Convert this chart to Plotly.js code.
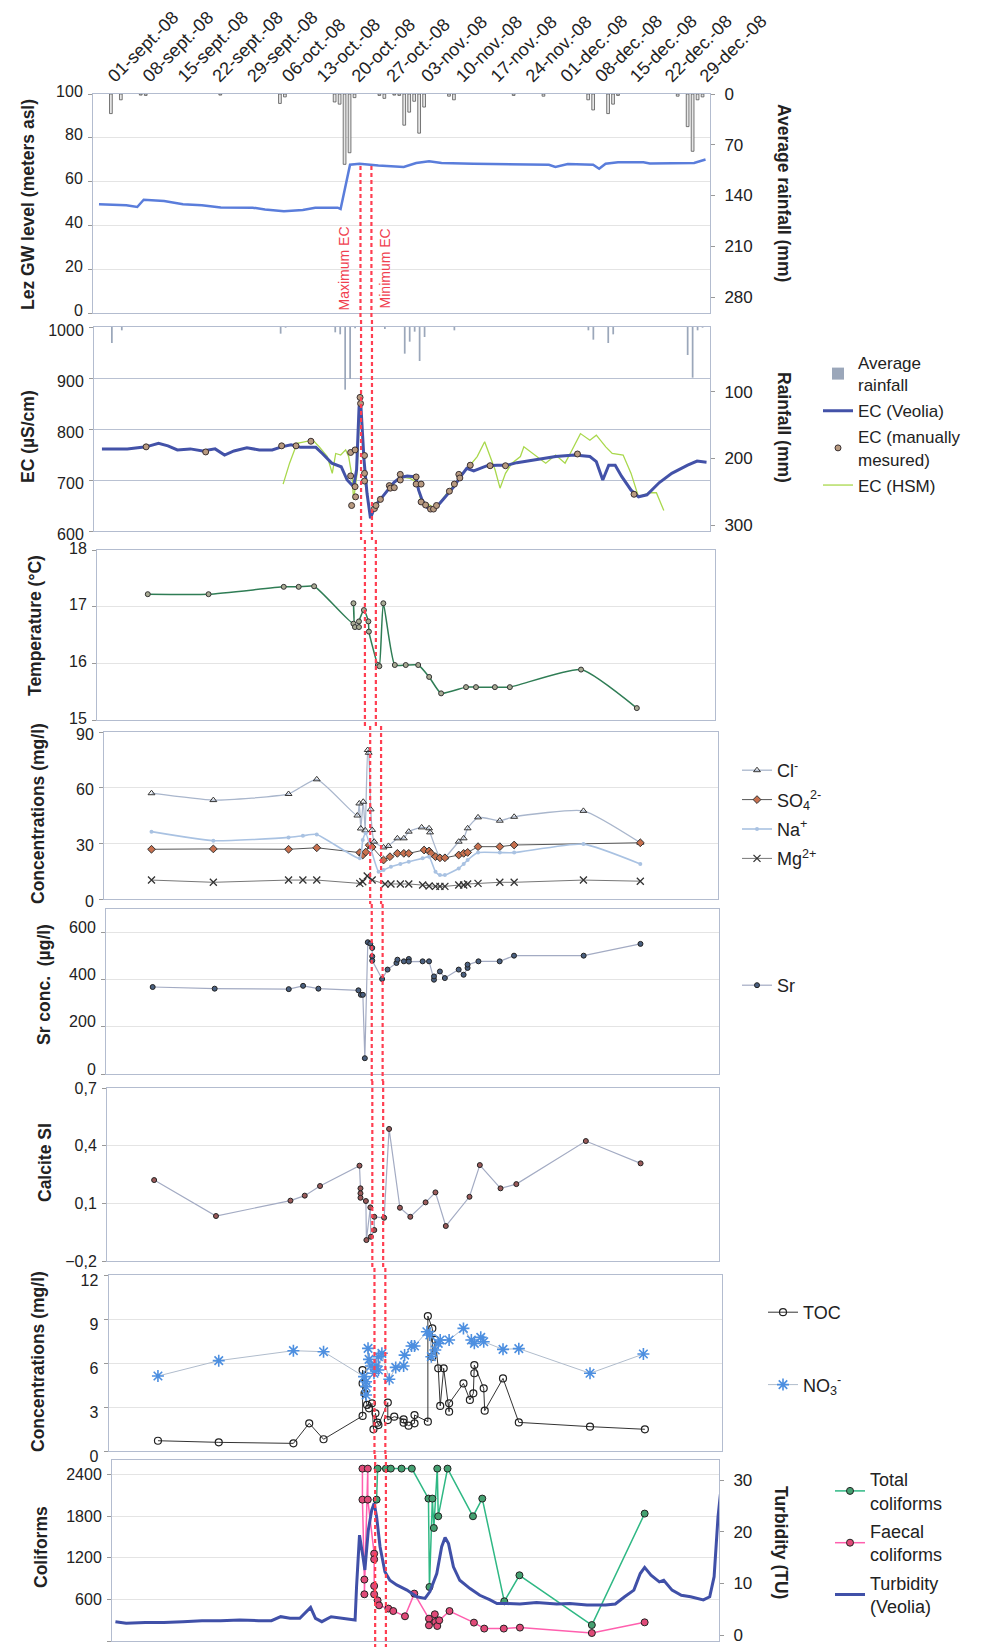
<!DOCTYPE html>
<html><head><meta charset="utf-8">
<script src="https://cdn.plot.ly/plotly-3.0.1.min.js"></script>
<style>html,body{margin:0;padding:0;background:#fff}#chart{width:984px;height:1647px}</style>
</head><body><div id="chart"></div>
<script>
// ---------- DATA (x values are days since 01-sept-2008) ----------
const weekDays = [0,7,14,21,28,35,42,49,56,63,70,77,84,91,98,105,112,119];
const weekLabels = ["01-sept.-08","08-sept.-08","15-sept.-08","22-sept.-08","29-sept.-08","06-oct.-08","13-oct.-08","20-oct.-08","27-oct.-08","03-nov.-08","10-nov.-08","17-nov.-08","24-nov.-08","01-dec.-08","08-dec.-08","15-dec.-08","22-dec.-08","29-dec.-08"];

const rainDay = [1,3,7,8,23,35,36,46,47,48,49,50,55,56,58,59,60,61,62,63,64,69,70,82,88,97,98,101,102,103,115,117,118,119,120];
const rainMm  = [27,8,1.5,2,1.5,13,4,11,14,97,81,5,2,6,1.5,2,43,25,10,54,18,3,8,2,3,8,22,27,14,2,3,45,79,8,4];

const gwDay = [-1.4,4.1,6.3,7.6,11.7,15.5,19.3,23.1,29.5,32.0,35.8,39.6,42.1,46.6,47.2,48.2,49.1,51.0,54.8,59.9,62.4,65.0,67.5,73.9,89.1,90.4,92.9,98.0,99.2,100.5,103.0,108.1,109.4,118.3,120.6];
const gwLevel = [49.7,49.2,48.4,51.7,51.1,49.7,49.2,48.2,48.1,47.3,46.5,47.0,48.1,48.1,47.5,58.5,67.7,68.2,67.4,66.7,68.5,69.3,68.5,68.2,67.7,66.7,68.0,67.7,65.9,68.2,68.8,68.8,68.3,68.5,70.1];

const ecVDay = [-1.0,4.1,7.9,10.4,12.3,14.2,16.8,19.3,21.8,23.7,25.6,28.2,30.7,33.3,35.2,37.1,39.0,42.1,43.4,45.3,47.2,48.4,49.7,50.3,50.8,51.1,51.8,52.4,53.1,54.1,55.1,56.5,57.8,59.1,60.5,62.2,62.8,63.5,64.5,65.5,66.5,68.2,69.9,71.2,72.5,73.9,75.2,76.6,78.6,80.6,82.6,86.5,90.4,94.2,97.3,98.6,99.9,101.1,102.4,103.7,105.6,107.1,108.8,111.3,113.8,117.0,118.9,120.8];
const ecV = [761,761,765,772,767,759,761,757,761,749,757,763,759,759,765,769,764,764,752,733,726,700,687,720,843,857,739,674,625,651,662,680,695,705,708,706,680,661,646,643,648,667,687,706,723,718,723,728,729,729,734,740,746,749,746,736,700,729,729,707,680,667,671,695,713,729,737,735];

const ecMDay = [7.9,19.9,35.2,38.1,41.1,49.1,50.0,49.1,49.3,50.0,50.1,51.0,51.1,51.9,51.9,51.9,53.9,54.2,55.1,56.9,57.1,57.9,59.1,59.1,62.3,62.3,63.3,63.3,64.2,65.2,65.8,66.4,69.0,70.0,70.9,71.1,73.2,77.2,80.3,94.8,106.2];
const ecM = [765,755,767,767,776,754,759,708,650,687,667,862,850,748,713,698,644,650,662,689,684,685,711,700,706,692,692,657,651,643,643,650,678,692,711,704,729,728,728,751,672];

const ecHDay = [35.5,36.8,38.3,39.9,41.5,42.8,44.4,45.4,46.1,47.1,48.1,48.7,49.4,49.7,50.4,51.0,51.4,52.1,53.1,54.1,55.1,57.1,59.1,61.1,62.5,63.2,64.5,66.2,68.5,71.2,72.5,74.6,76.1,77.2,78.2,79.2,80.3,81.6,83.3,84.0,86.5,88.4,90.4,92.3,93.5,95.4,97.3,98.6,100.5,101.8,104.0,105.6,107.1,109.4,110.7,112.2];
const ecH = [692,733,772,775,778,765,746,713,752,749,759,746,706,661,713,850,791,687,635,644,661,687,706,703,695,661,654,644,674,706,720,746,775,746,720,684,713,733,746,765,746,733,749,733,755,791,778,788,765,752,749,713,667,675,675,640];

const tDay = [7.6,19.8,34.9,37.9,41.0,48.9,48.9,49.2,50.0,50.0,51.0,51.9,52.0,53.8,54.1,54.9,57.2,59.4,61.9,64.1,66.5,71.5,73.5,77.3,80.3,94.6,105.8];
const tempC = [17.22,17.22,17.35,17.35,17.36,16.70,17.06,16.64,16.64,16.74,16.94,16.74,16.56,15.97,15.95,17.06,15.97,15.97,15.97,15.76,15.47,15.58,15.58,15.58,15.58,15.89,15.21];

const clDay = [7.0,19.5,34.7,40.4,48.6,49.0,49.3,49.8,50.2,50.7,50.9,51.3,51.6,52.0,53.9,54.9,56.7,58.0,59.0,61.6,63.1,63.3,65.3,66.3,69.1,70.1,70.9,73.0,77.4,80.3,94.3,105.8];
const cl = [57,53.3,56.6,64.5,45,51.5,38,52.4,37,80.3,78.8,48.3,37.2,30.9,27.8,28.6,32.7,32.7,36.3,38.6,38.1,35.9,22.4,22.4,30.9,32.7,38.1,44,42.2,44.3,47.5,30.3];
const so4Day = [7.0,19.5,34.7,40.4,49.1,49.7,50.3,51.0,51.6,53.9,55.2,56.7,58.0,59.0,62.1,63.1,63.5,64.4,65.3,66.3,69.1,70.1,70.9,73.0,77.4,80.3,105.8];
const so4 = [26.8,27,26.8,27.6,25,23.7,25.3,29,28,21,22.8,24.6,24.6,24.6,26.4,25.9,24.6,22.8,22.2,22.2,23.7,24.6,25.1,28.2,28.2,29.1,30.3];
const naDay = [7.0,19.5,34.7,37.6,40.4,49.1,49.7,50.3,52.9,53.9,55.4,57.3,59.0,61.8,63.1,64.4,65.3,66.3,69.1,70.1,70.9,73.0,77.4,80.3,94.3,105.8];
const na = [36.3,31.4,33.2,34.1,34.8,21.9,31.8,35.4,14.7,15.6,17.4,18.9,20.1,21.9,22.8,14.7,12.9,12.9,16.5,18.9,21.0,25,25,25,29.6,18.9];
const mgDay = [7.0,19.5,34.7,37.6,40.4,49.1,49.7,50.6,51.6,54.2,55.4,57.3,59.0,61.8,63.1,64.4,65.3,66.3,69.1,70.1,70.9,73.0,77.4,80.3,94.3,105.8];
const mg = [10.2,9.0,10.2,10.2,10.2,8.4,9.3,12.4,10.2,8.1,8.1,8.1,8.1,7.5,7.0,6.8,6.8,6.8,7.5,7.5,8.1,8.4,9.0,9.0,10.2,9.6];

const srDay = [6.85,19.4,34.4,37.3,40.4,48.5,49.0,49.4,49.8,50.4,50.9,51.3,51.3,51.3,53.3,54.4,56.2,56.4,57.7,58.7,58.7,61.5,62.8,63.8,63.8,65.0,66.0,68.8,69.8,70.6,70.6,72.8,77.1,80.0,94.1,105.6];
const sr = [369,362,360,374,362,355,336,336,67,559,553,535,499,481,403,443,471,485,478,488,477,478,478,400,414,435,407,443,421,450,464,478,478,502,502,552];

const siDay = [6.96,19.5,34.6,37.5,40.6,48.6,48.8,48.8,48.8,49.9,50.0,50.8,50.9,51.6,51.6,53.6,54.6,56.8,58.9,62.0,64.0,66.1,70.9,73.0,77.2,80.4,94.5,105.6];
const calciteSI = [0.221,0.034,0.114,0.140,0.190,0.296,0.178,0.152,0.129,0.112,-0.091,0.079,-0.074,-0.039,0.030,0.025,0.487,0.077,0.030,0.105,0.157,-0.018,0.134,0.299,0.178,0.200,0.424,0.308];

const no3Day = [7.4,19.7,34.8,40.9,49.1,49.5,49.5,49.5,49.9,50.1,50.5,51.1,51.5,52.0,52.0,52.7,54.2,55.5,57.1,57.3,58.7,59.3,61.8,62.4,62.7,63.5,64.1,64.5,66.3,69.2,70.8,71.4,72.7,73.3,77.2,80.4,94.8,105.6];
const no3 = [5.11,6.16,6.84,6.77,5.07,4.72,3.82,4.38,7.0,6.25,5.8,5.3,5.8,6.43,5.52,6.66,4.89,5.7,5.8,6.54,7.16,7.16,8.13,7.91,6.43,6.89,7.34,7.57,7.57,8.36,7.57,7.34,7.75,7.45,6.93,6.98,5.3,6.61];
const tocDay = [7.4,19.7,34.8,38.0,40.9,48.8,48.8,48.8,49.2,49.7,50.1,50.7,51.0,51.4,51.8,52.0,53.9,53.9,55.2,57.1,57.1,58.1,59.3,59.3,62.0,62.0,62.9,62.9,63.5,64.1,64.5,65.2,66.3,66.3,69.2,70.5,71.2,71.4,71.4,73.3,73.5,77.2,80.4,94.8,105.9];
const toc = [0.70,0.59,0.52,1.89,0.80,2.39,5.52,4.61,3.93,3.14,2.91,3.25,1.48,2.57,1.93,1.77,3.30,2.11,2.34,2.16,1.93,1.73,1.89,2.45,2.0,9.2,8.36,6.43,7.57,5.64,3.07,5.64,2.68,3.25,4.61,3.48,3.93,5.30,5.86,4.27,2.75,4.95,1.95,1.66,1.48];

const totDay = [51.5,51.7,53.4,54.4,56.6,58.7,62.1,62.3,62.9,63.2,63.9,64.1,66.0,71.2,73.1,77.6,80.7,95.5,106.3];
const totalColi = [2037,2484,2484,2484,2484,2484,2052,778,2052,1628,2484,1797,2484,1797,2052,572,947,230,1836];
const faeDay = [48.6,48.6,49.0,49.0,49.7,49.7,51.0,51.0,51.0,51.0,51.7,52.0,53.9,54.9,57.3,59.2,62.2,62.2,63.4,63.5,63.9,64.3,66.4,71.4,73.5,77.5,80.8,95.5,106.3];
const faecalColi = [2484,2037,885,673,2484,2037,1259,1177,793,673,586,514,467,432,356,683,322,226,385,274,216,298,432,265,179,179,193,115,269];
const turbDay = [-1.9,0.3,4.2,8.0,11.9,15.8,19.6,23.5,27.4,30.0,31.9,33.8,35.8,38.0,39.0,40.3,42.2,44.7,47.1,47.4,48.0,48.7,49.1,49.8,50.5,51.0,51.5,52.2,53.2,54.2,55.6,57.7,59.7,61.4,62.4,63.8,64.8,65.5,66.2,67.2,68.5,70.6,72.6,74.7,76.1,78.1,80.8,84.2,88.3,91.0,94.5,98.3,100.3,102.2,104.1,105.4,106.3,107.6,109.3,110.2,111.9,113.8,115.7,118.3,119.6,120.5,121.3,121.8];
const turbidity = [2.58,2.26,2.4,2.4,2.58,2.77,2.77,2.9,2.77,2.77,3.55,3.23,3.23,5.36,3.23,2.58,3.55,3.23,2.9,9.35,19.35,15.2,12.6,20.3,24.2,25.5,22.9,17.1,12.25,10.6,9.7,8.7,7.4,7.1,8.4,11.9,17.1,18.9,17.7,13.2,10.6,9.0,7.7,6.8,6.1,6.1,6.0,6.3,6.0,6.1,5.8,5.8,6.0,7.4,8.7,11.9,13.1,11.6,10.3,10.6,8.7,7.7,7.4,6.8,7.4,11.3,22.9,27.4];

const markerDays = [51.2, 53.4];  // Maximum EC / Minimum EC
const markerNames = ["Maximum EC", "Minimum EC"];

// ---------- LAYOUT GEOMETRY ----------
const W = 984, H = 1647;
const px = v => v / W, py = v => 1 - v / H;
const XR = [-2.6, 121.5];
// shift: vertical nudge of tick labels (positive = down) to keep neighbouring panels' labels apart
const panels = [
  {L:93, R:710, T:94, B:313, shift: -3},
  {L:94, R:710, T:327, B:531, shift: 3},
  {L:97, R:715, T:550, B:720, shift: -2},
  {L:104, R:718, T:732, B:899, shift: 2},
  {L:106, R:719, T:909, B:1074, shift: -5},
  {L:107, R:719, T:1088, B:1261, shift: 0},
  {L:108.5, R:722, T:1275, B:1451, shift: 5},
  {L:112, R:719, T:1460, B:1641, shift: 0}
];
const TF = "Liberation Sans, Arial, sans-serif";
const tickFont = {family: TF, size: 16, color: '#222'};
const boxCol = '#b3bccf';

const layout = {
  width: W, height: H, autosize: false,
  margin: {l:0, r:0, t:0, b:0, pad:0},
  paper_bgcolor: '#fff', plot_bgcolor: 'rgba(0,0,0,0)',
  separators: ',.',
  font: {family: TF, size: 16, color: '#222'},
  shapes: [], annotations: []
};

panels.forEach((p, i) => {
  const n = i + 1, s = n === 1 ? '' : String(n);
  layout['xaxis' + s] = {
    domain: [px(p.L), px(p.R)], range: XR, anchor: 'y' + s,
    showgrid: false, zeroline: false, showline: true, mirror: true,
    linecolor: boxCol, linewidth: 1, ticks: '', fixedrange: true,
    showticklabels: n === 1
  };
  layout['yaxis' + s] = {
    domain: [py(p.B), py(p.T)], anchor: 'x' + s,
    showgrid: true, gridcolor: n === 2 ? '#b9c1d2' : '#e4e4e4', gridwidth: 1,
    zeroline: false, showline: true, mirror: n > 2, linecolor: boxCol, linewidth: 1,
    ticks: 'outside', ticklen: 4, tickcolor: '#999', tickfont: tickFont,
    ticklabelstandoff: 2, ticklabelshift: p.shift, fixedrange: true
  };
});
Object.assign(layout.xaxis, {side: 'top', tickvals: weekDays, ticktext: weekLabels, tickangle: -45,
  tickfont: {family: TF, size: 18, color: '#222'}, ticklabelstandoff: 0, ticklabelshift: 3});
Object.assign(layout.yaxis,  {range: [0, 100], dtick: 20});
Object.assign(layout.yaxis2, {range: [600, 1000], dtick: 100});
Object.assign(layout.yaxis3, {range: [15, 18], dtick: 1});
Object.assign(layout.yaxis4, {range: [0, 90], dtick: 30});
Object.assign(layout.yaxis5, {range: [0, 700], tickvals: [0, 200, 400, 600]});
Object.assign(layout.yaxis6, {range: [-0.2, 0.7], tickvals: [-0.2, 0.1, 0.4, 0.7]});
Object.assign(layout.yaxis7, {range: [0, 12], dtick: 3});
Object.assign(layout.yaxis8, {range: [0, 2608], dtick: 600});
const rightAxis = (over, range, vals) => ({
  overlaying: over, side: 'right', anchor: over.replace('y', 'x'), range, tickvals: vals,
  showgrid: false, zeroline: false, showline: true, linecolor: boxCol,
  ticks: 'outside', ticklen: 4, tickcolor: '#999', tickfont: {family: TF, size: 17, color: '#222'},
  ticklabelstandoff: 6, fixedrange: true
});
layout.yaxis9  = rightAxis('y',  [302, 0], [0, 70, 140, 210, 280]);
layout.yaxis10 = rightAxis('y2', [309, 3], [0, 100, 200, 300]);
layout.yaxis11 = rightAxis('y8', [-1.16, 33.9], [0, 10, 20, 30]);

// axis titles
const titles = [
  ["Lez GW level (meters asl)", 28, 205, -90], ["EC (µS/cm)", 28, 437, -90],
  ["Temperature (°C)", 35, 626, -90], ["Concentrations (mg/l)", 38, 814, -90],
  ["Sr conc.  (µg/l)", 44, 985, -90], ["Calcite SI", 45, 1163, -90],
  ["Concentrations (mg/l)", 38, 1362, -90], ["Coliforms", 41, 1547, -90],
  ["Average rainfall (mm)", 784, 193, 90], ["Rainfall (mm)", 784, 427, 90], ["Turbidity (TU)", 781, 1542, 90]
];
titles.forEach(t => layout.annotations.push({text: '<b>' + t[0] + '</b>', xref: 'paper', yref: 'paper',
  x: px(t[1]), y: py(t[2]), textangle: t[3], showarrow: false, xanchor: 'center', yanchor: 'middle',
  font: {family: TF, size: 17.5, color: '#222'}}));

// red dashed marker lines (one segment per panel, follows each panel's axis)
const segs = [[166, 320], [320, 540], [540, 726], [726, 904], [904, 1081], [1081, 1268], [1268, 1455], [1455, 1650]];
segs.forEach((sg, i) => {
  const s = i === 0 ? '' : String(i + 1);
  markerDays.forEach(d => layout.shapes.push({type: 'line', xref: 'x' + s, yref: 'paper',
    x0: d, x1: d, y0: py(sg[0]), y1: py(sg[1]), layer: 'above',
    line: {color: '#ff3f52', width: 2.2, dash: '4px,3px'}}));
});
markerNames.forEach((m, k) => layout.annotations.push({text: m, xref: 'x', yref: 'paper', x: markerDays[k],
  xshift: k === 0 ? -16 : 14, y: py(268), textangle: -90, showarrow: false,
  xanchor: 'center', yanchor: 'middle',
  font: {family: TF, size: 14, color: '#f0404f'}}));

// legends
const legBase = {bgcolor: 'rgba(0,0,0,0)', font: {family: TF, size: 18, color: '#222'}, itemwidth: 30,
  xanchor: 'left', yanchor: 'top', traceorder: 'grouped'};
layout.legend  = Object.assign({}, legBase, {x: px(818), y: py(345), tracegroupgap: 1,
  font: {family: TF, size: 17, color: '#222'}});
layout.legend2 = Object.assign({}, legBase, {x: px(737), y: py(752), tracegroupgap: 3});
layout.legend3 = Object.assign({}, legBase, {x: px(737), y: py(967)});
layout.legend4 = Object.assign({}, legBase, {x: px(763), y: py(1294), tracegroupgap: 46});
layout.legend5 = Object.assign({}, legBase, {x: px(830), y: py(1461), tracegroupgap: 2});

// ---------- TRACES ----------
const traces = [];
const add = (o) => { o.type = o.type || 'scatter'; o.legendgroup = 'g' + traces.length; traces.push(o); };

add({x: gwDay, y: gwLevel, xaxis: 'x', yaxis: 'y', mode: 'lines', line: {color: '#5a7ddb', width: 2.5}, showlegend: false, name: 'GW'});
add({type: 'bar', x: rainDay, y: rainMm, xaxis: 'x', yaxis: 'y9', width: 0.55, showlegend: false, name: 'rain',
  marker: {color: '#e6e6e6', line: {color: '#555', width: 0.8}}});

add({type: 'bar', x: rainDay, y: rainMm, xaxis: 'x2', yaxis: 'y10', width: 0.35, name: 'Average<br>rainfall', legend: 'legend', legendrank: 1,
  marker: {color: '#9ba7ba', line: {width: 0}}});
add({x: ecHDay, y: ecH, xaxis: 'x2', yaxis: 'y2', mode: 'lines', line: {color: '#a9d84c', width: 1.3}, name: 'EC (HSM)', legend: 'legend', legendrank: 4});
add({x: ecVDay, y: ecV, xaxis: 'x2', yaxis: 'y2', mode: 'lines', line: {color: '#4352a8', width: 3}, name: 'EC (Veolia)', legend: 'legend', legendrank: 2});
add({x: ecMDay, y: ecM, xaxis: 'x2', yaxis: 'y2', mode: 'markers', name: 'EC (manually<br>mesured)', legend: 'legend', legendrank: 3,
  marker: {size: 6, color: '#b89a80', line: {color: '#3a3030', width: 1}}});

add({x: tDay, y: tempC, xaxis: 'x3', yaxis: 'y3', mode: 'lines+markers', showlegend: false, name: 'T',
  line: {color: '#2f7d55', width: 1.5, shape: 'spline', smoothing: 0.5},
  marker: {size: 5, color: '#a8ab94', line: {color: '#333', width: 1}}});

add({x: clDay, y: cl, xaxis: 'x4', yaxis: 'y4', mode: 'lines+markers', name: 'Cl<sup>-</sup>', legend: 'legend2',
  line: {color: '#a9b6cc', width: 1.3, shape: 'spline', smoothing: 0.5},
  marker: {symbol: 'triangle-up-open', size: 6, color: '#333', line: {width: 1}}});
add({x: so4Day, y: so4, xaxis: 'x4', yaxis: 'y4', mode: 'lines+markers', name: 'SO<sub>4</sub><sup>2-</sup>', legend: 'legend2',
  line: {color: '#555', width: 1},
  marker: {symbol: 'diamond', size: 6, color: '#c8704e', line: {color: '#333', width: 1}}});
add({x: naDay, y: na, xaxis: 'x4', yaxis: 'y4', mode: 'lines+markers', name: 'Na<sup>+</sup>', legend: 'legend2',
  line: {color: '#a9c2e2', width: 1.6, shape: 'spline', smoothing: 0.5},
  marker: {size: 4, color: '#a9c2e2'}});
add({x: mgDay, y: mg, xaxis: 'x4', yaxis: 'y4', mode: 'lines+markers', name: 'Mg<sup>2+</sup>', legend: 'legend2',
  line: {color: '#777', width: 1},
  marker: {symbol: 'x-thin-open', size: 7, color: '#333', line: {width: 1.3}}});

add({x: srDay, y: sr, xaxis: 'x5', yaxis: 'y5', mode: 'lines+markers', name: 'Sr', legend: 'legend3',
  line: {color: '#a3abc3', width: 1.2},
  marker: {size: 5, color: '#4a6080', line: {color: '#222', width: 1}}});

add({x: siDay, y: calciteSI, xaxis: 'x6', yaxis: 'y6', mode: 'lines+markers', showlegend: false, name: 'SI',
  line: {color: '#a3abc3', width: 1.2},
  marker: {size: 5, color: '#9a5a5a', line: {color: '#222', width: 1}}});

add({x: tocDay, y: toc, xaxis: 'x7', yaxis: 'y7', mode: 'lines+markers', name: 'TOC', legend: 'legend4',
  line: {color: '#333', width: 1},
  marker: {symbol: 'circle-open', size: 7, color: '#222', line: {width: 1.2}}});
add({x: no3Day, y: no3, xaxis: 'x7', yaxis: 'y7', mode: 'lines+markers', name: 'NO<sub>3</sub><sup>-</sup>', legend: 'legend4',
  line: {color: '#b0bccc', width: 1},
  marker: {symbol: 'asterisk-open', size: 10, color: '#4d8fe0', line: {width: 1.6}}});

add({x: totDay, y: totalColi, xaxis: 'x8', yaxis: 'y8', mode: 'lines+markers', name: 'Total<br>coliforms', legend: 'legend5',
  line: {color: '#2fb884', width: 1.5},
  marker: {size: 7, color: '#44a070', line: {color: '#222', width: 1}}});
add({x: faeDay, y: faecalColi, xaxis: 'x8', yaxis: 'y8', mode: 'lines+markers', name: 'Faecal<br>coliforms', legend: 'legend5',
  line: {color: '#ff5fae', width: 1.5},
  marker: {size: 7, color: '#e04a78', line: {color: '#222', width: 1}}});
add({x: turbDay, y: turbidity, xaxis: 'x8', yaxis: 'y11', mode: 'lines', name: 'Turbidity<br>(Veolia)', legend: 'legend5',
  line: {color: '#4050a8', width: 3}});

Plotly.newPlot('chart', traces, layout, {displayModeBar: false, staticPlot: true});
</script>
</body></html>
